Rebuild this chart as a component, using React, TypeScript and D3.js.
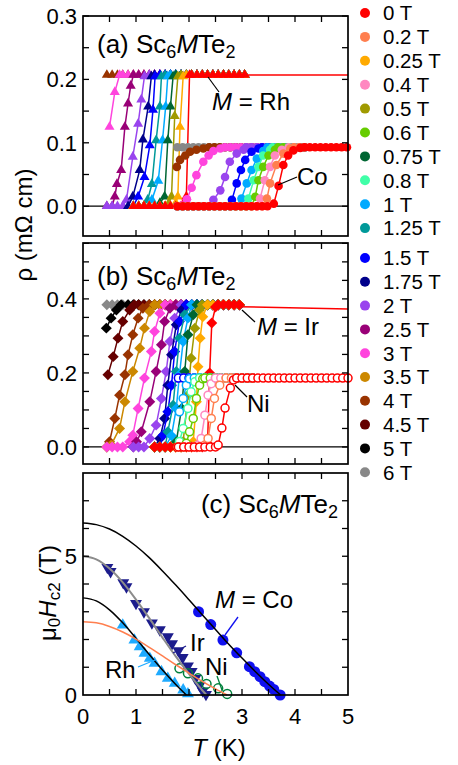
import React from 'react'
import * as d3 from 'd3'

// magnetic fields and their colours (legend order)
const fieldValues = [0, 0.2, 0.25, 0.4, 0.5, 0.6, 0.75, 0.8, 1, 1.25, 1.5, 1.75, 2, 2.5, 3, 3.5, 4, 4.5, 5, 6]
const fieldColors = [
  '#ff0000', '#ff7f4f', '#ffaa00', '#ff88c0', '#a09a00', '#66cc00', '#006633', '#40ffa8', '#00aaff', '#009999',
  '#0000ff', '#00008b', '#9944ee', '#990077', '#ff44dd', '#cc8800', '#993300', '#660000', '#000000', '#888888'
]
const colorOf = (h: number) => fieldColors[fieldValues.indexOf(h)]

// measured temperatures (K)
const rhTemps = [0.45, 0.55, 0.65, 0.75, 0.85, 0.95, 1.05, 1.15, 1.25, 1.35, 1.45, 1.55, 1.65, 1.75, 1.85, 1.95, 2.05, 2.15, 2.25, 2.35, 2.45, 2.55, 2.65, 2.75, 2.85, 2.95, 3.05]
const coTemps = [1.78, 1.88, 1.98, 2.08, 2.18, 2.28, 2.38, 2.48, 2.58, 2.68, 2.78, 2.88, 2.98, 3.08, 3.18, 3.28, 3.38, 3.48, 3.58, 3.68, 3.78, 3.88, 3.98, 4.08, 4.18, 4.28, 4.38, 4.48, 4.58, 4.68, 4.78, 4.88, 4.98]
const irTemps = [0.45, 0.55, 0.65, 0.75, 0.85, 0.95, 1.05, 1.15, 1.25, 1.35, 1.45, 1.55, 1.65, 1.75, 1.85, 1.95, 2.05, 2.15, 2.25, 2.35, 2.45, 2.55, 2.65, 2.75, 2.85, 2.95]
const niTemps = [1.8, 1.9, 2.0, 2.1, 2.2, 2.3, 2.4, 2.5, 2.6, 2.7, 2.8, 2.9, 3.0, 3.1, 3.2, 3.3, 3.4, 3.5, 3.6, 3.7, 3.8, 3.9, 4.0, 4.1, 4.2, 4.3, 4.4, 4.5, 4.6, 4.7, 4.8, 4.9, 5.0]

// normal-state resistivity (mOhm cm)
const rhNormal = 0.207
const coNormal = 0.093
const irNormal = 0.384
const niNormal = 0.186

// transitions: field, lowest T measured, points [T, rho]
const rhCurves = [
  { h: 4, tMin: 0.45, pts: [] },
  { h: 3, tMin: 0.5, pts: [[0.5, 0.125], [0.6, 0.18], [0.69, 0.207]] },
  { h: 2.5, tMin: 0.45, pts: [[0.6, 0.015], [0.64, 0.035], [0.72, 0.057], [0.79, 0.125], [0.85, 0.162], [0.9, 0.19], [0.95, 0.207]] },
  { h: 2, tMin: 0.45, pts: [[0.82, 0.01], [0.94, 0.078], [1.04, 0.13], [1.1, 0.168], [1.16, 0.205]] },
  { h: 1.75, tMin: 0.85, pts: [[0.94, 0.015], [1.07, 0.057], [1.13, 0.105], [1.23, 0.157], [1.29, 0.205]] },
  { h: 1.5, tMin: 0.95, pts: [[1.04, 0.015], [1.16, 0.046], [1.26, 0.096], [1.32, 0.152], [1.36, 0.205]] },
  { h: 1.25, tMin: 0.95, pts: [[1.22, 0.01], [1.3, 0.035], [1.38, 0.104], [1.45, 0.157], [1.48, 0.205]] },
  { h: 1, tMin: 0.95, pts: [[1.3, 0.01], [1.42, 0.04], [1.5, 0.104], [1.56, 0.157], [1.6, 0.205]] },
  { h: 0.75, tMin: 0.95, pts: [[1.45, 0.005], [1.54, 0.015], [1.6, 0.104], [1.65, 0.157], [1.7, 0.205]] },
  { h: 0.5, tMin: 0.95, pts: [[1.62, 0.005], [1.67, 0.015], [1.73, 0.142], [1.79, 0.205]] },
  { h: 0.25, tMin: 0.95, pts: [[1.75, 0.005], [1.79, 0.015], [1.83, 0.125], [1.89, 0.205]] },
  { h: 0, tMin: 0.95, pts: [[1.9, 0.005], [1.95, 0.015], [2.01, 0.207]] }
]
const rhTail = [[3.05, 0.207], [5.0, 0.207]]

const coCurves = [
  { h: 6, tMin: 1.78, pts: [] },
  { h: 4, tMin: 1.78, pts: [[1.77, 0.062], [1.83, 0.073], [1.93, 0.08], [2.02, 0.086], [2.14, 0.089], [2.27, 0.091]] },
  { h: 3, tMin: 1.78, pts: [[1.86, 0.001], [1.96, 0.011], [2.05, 0.029], [2.14, 0.049], [2.27, 0.07], [2.37, 0.08], [2.46, 0.087], [2.59, 0.091]] },
  { h: 2, tMin: 1.78, pts: [[2.46, 0.01], [2.59, 0.025], [2.68, 0.046], [2.77, 0.07], [2.9, 0.083], [3.03, 0.089]] },
  { h: 1.5, tMin: 1.78, pts: [[2.81, 0.01], [2.9, 0.036], [2.98, 0.057], [3.06, 0.073], [3.18, 0.086], [3.31, 0.091]] },
  { h: 1, tMin: 1.78, pts: [[2.99, 0.012], [3.09, 0.036], [3.18, 0.057], [3.28, 0.075], [3.4, 0.087]] },
  { h: 0.8, tMin: 1.78, pts: [[3.12, 0.012], [3.22, 0.041], [3.31, 0.062], [3.4, 0.08], [3.53, 0.089]] },
  { h: 0.6, tMin: 1.78, pts: [[3.25, 0.015], [3.31, 0.041], [3.4, 0.062], [3.5, 0.08], [3.62, 0.089]] },
  { h: 0.4, tMin: 1.78, pts: [[3.34, 0.012], [3.43, 0.041], [3.53, 0.062], [3.62, 0.08], [3.75, 0.089]] },
  { h: 0.2, tMin: 1.78, pts: [[3.47, 0.012], [3.53, 0.036], [3.65, 0.065], [3.78, 0.083], [3.91, 0.091]] },
  { h: 0, tMin: 1.78, pts: [[3.6, 0.004], [3.69, 0.032], [3.78, 0.065], [3.87, 0.08], [3.97, 0.088], [4.1, 0.092]] }
]

const irCurves = [
  { h: 6, tMin: 0.44, pts: [] },
  { h: 5, tMin: 0.44, pts: [[0.44, 0.321], [0.53, 0.348], [0.63, 0.37], [0.72, 0.384]] },
  { h: 4.5, tMin: 0.44, pts: [[0.47, 0.195], [0.57, 0.244], [0.66, 0.294], [0.75, 0.339], [0.88, 0.37], [0.97, 0.384]] },
  { h: 4, tMin: 0.44, pts: [[0.5, 0.014], [0.6, 0.077], [0.69, 0.14], [0.79, 0.195], [0.85, 0.249], [0.94, 0.303], [1.04, 0.348], [1.13, 0.375]] },
  { h: 3.5, tMin: 0.44, pts: [[0.53, 0.005], [0.69, 0.05], [0.79, 0.122], [0.94, 0.204], [1.07, 0.267], [1.16, 0.321], [1.26, 0.366]] },
  { h: 3, tMin: 0.44, pts: [[0.88, 0.014], [0.94, 0.032], [1.04, 0.104], [1.16, 0.186], [1.29, 0.258], [1.35, 0.312], [1.45, 0.361]] },
  { h: 2.5, tMin: 0.9, pts: [[1.01, 0.014], [1.1, 0.041], [1.26, 0.122], [1.38, 0.204], [1.48, 0.276], [1.54, 0.339], [1.64, 0.375]] },
  { h: 2, tMin: 0.9, pts: [[1.26, 0.023], [1.38, 0.059], [1.48, 0.131], [1.57, 0.204], [1.64, 0.285], [1.73, 0.348]] },
  { h: 1.75, tMin: 1.3, pts: [[1.45, 0.023], [1.54, 0.077], [1.6, 0.167], [1.67, 0.249], [1.76, 0.33], [1.86, 0.37]] },
  { h: 1.5, tMin: 1.3, pts: [[1.51, 0.032], [1.6, 0.095], [1.67, 0.167], [1.73, 0.258], [1.82, 0.339]] },
  { h: 1.25, tMin: 1.3, pts: [[1.6, 0.041], [1.7, 0.113], [1.76, 0.204], [1.82, 0.294], [1.92, 0.357]] },
  { h: 1, tMin: 1.3, pts: [[1.67, 0.03], [1.76, 0.104], [1.82, 0.195], [1.89, 0.285], [1.98, 0.348]] },
  { h: 0.75, tMin: 1.3, pts: [[1.76, 0.014], [1.86, 0.104], [1.92, 0.204], [1.98, 0.303], [2.08, 0.357]] },
  { h: 0.5, tMin: 1.3, pts: [[1.89, 0.014], [1.98, 0.14], [2.04, 0.24], [2.11, 0.321], [2.2, 0.37]] },
  { h: 0.25, tMin: 1.3, pts: [[2.08, 0.014], [2.14, 0.122], [2.17, 0.217], [2.21, 0.294], [2.26, 0.352]] },
  { h: 0, tMin: 1.3, pts: [[2.35, 0.01], [2.39, 0.2], [2.43, 0.335], [2.5, 0.378]] }
]
const irTail = [[2.95, 0.379], [5.0, 0.373]]

const niCurves = [
  { h: 2, tMin: 1.8, pts: [] },
  { h: 1.5, tMin: 1.8, pts: [] },
  { h: 1, tMin: 1.8, pts: [[1.82, 0.095], [1.89, 0.131], [1.95, 0.167], [2.01, 0.184]] },
  { h: 0.8, tMin: 1.8, pts: [[1.82, 0.015], [1.89, 0.05], [1.98, 0.104], [2.04, 0.149], [2.11, 0.176]] },
  { h: 0.6, tMin: 1.8, pts: [[1.95, 0.01], [2.01, 0.041], [2.08, 0.077], [2.14, 0.131], [2.2, 0.167], [2.26, 0.184]] },
  { h: 0.4, tMin: 1.8, pts: [[2.17, 0.005], [2.23, 0.023], [2.3, 0.086], [2.36, 0.14], [2.42, 0.171]] },
  { h: 0.2, tMin: 1.8, pts: [[2.3, 0.005], [2.36, 0.023], [2.42, 0.077], [2.48, 0.131], [2.58, 0.167]] },
  { h: 0, tMin: 1.8, pts: [[2.55, 0.005], [2.62, 0.051], [2.68, 0.105], [2.78, 0.159], [2.84, 0.181]] }
]

// upper critical field (T) vs temperature (K)
const coHc2 = [[2.18, 3.0], [2.41, 2.54], [2.64, 1.98], [2.9, 1.52], [3.14, 1.02], [3.24, 0.84], [3.34, 0.66], [3.43, 0.48], [3.52, 0.32], [3.6, 0.2], [3.72, 0.0]]
const irHc2 = [[0.46, 4.6], [0.52, 4.45], [0.76, 4.05], [0.82, 3.9], [1.0, 3.3], [1.15, 3.0], [1.3, 2.6], [1.45, 2.35], [1.6, 2.1], [1.68, 1.85], [1.8, 1.6], [1.88, 1.35], [1.98, 1.05], [2.05, 0.85], [2.12, 0.6], [2.2, 0.35], [2.26, 0.15], [2.32, 0.02]]
const rhHc2 = [[0.75, 2.52], [0.97, 1.98], [1.07, 1.74], [1.16, 1.5], [1.26, 1.32], [1.35, 1.14], [1.48, 0.84], [1.6, 0.6], [1.73, 0.42], [1.89, 0.18], [1.98, 0.04]]
const niHc2 = [[1.82, 0.96], [1.98, 0.78], [2.17, 0.6], [2.33, 0.4], [2.55, 0.24], [2.72, 0.04]]

const coFit = [[0, 6.2], [0.25, 6.14], [0.5, 5.98], [0.75, 5.72], [1, 5.37], [1.25, 4.95], [1.5, 4.47], [1.75, 3.96], [2, 3.43], [2.25, 2.89], [2.5, 2.36], [2.75, 1.83], [3, 1.33], [3.25, 0.85], [3.5, 0.39], [3.73, 0]]
const irFit = [[0, 5.0], [0.25, 4.89], [0.5, 4.56], [0.75, 4.06], [1, 3.44], [1.25, 2.77], [1.5, 2.07], [1.75, 1.39], [2, 0.76], [2.25, 0.17], [2.33, 0]]
const rhFit = [[0, 3.5], [0.25, 3.39], [0.5, 3.07], [0.75, 2.6], [1, 2.04], [1.25, 1.46], [1.5, 0.9], [1.75, 0.38], [1.95, 0]]
const niFit = [[0, 2.64], [0.25, 2.6], [0.5, 2.47], [0.75, 2.27], [1, 2.01], [1.25, 1.72], [1.5, 1.41], [1.75, 1.09], [2, 0.79], [2.25, 0.49], [2.5, 0.22], [2.72, 0]]

const FONT = 'Liberation Sans, Arial, sans-serif'
const x = d3.scaleLinear().domain([0, 5]).range([83, 348])
const yA = d3.scaleLinear().domain([-0.047, 0.3]).range([236, 16])
const yB = d3.scaleLinear().domain([-0.046, 0.551]).range([464, 243])
const yC = d3.scaleLinear().domain([0, 8]).range([695, 473])

// zero and normal-state parts sit on the measured temperature grid
function buildSeries(temps, c, normal, tMax) {
  const first = c.pts.length ? c.pts[0][0] : -Infinity
  const last = c.pts.length ? c.pts[c.pts.length - 1][0] : -Infinity
  const grid = temps.filter(t => t >= c.tMin && t <= tMax)
  const below = grid.filter(t => t < first - 0.03).map(t => [t, 0])
  const above = grid.filter(t => t > last + 0.03).map(t => [t, normal])
  return [...below, ...c.pts, ...above]
}

const triUp = d3.symbol(d3.symbolTriangle, 44)()
const square = d3.symbol(d3.symbolSquare, 60)()

function Frame({ ys, top, bottom, ticks }) {
  return (
    <g stroke="#000" strokeWidth={1.3}>
      {d3.range(0.5, 5, 0.5).map(t => (
        <g key={t}>
          <line x1={x(t)} x2={x(t)} y1={top} y2={top + 6} />
          <line x1={x(t)} x2={x(t)} y1={bottom} y2={bottom - 6} />
        </g>
      ))}
      {ticks.map(v => (
        <g key={v}>
          <line x1={83} x2={89} y1={ys(v)} y2={ys(v)} />
          <line x1={348} x2={342} y1={ys(v)} y2={ys(v)} />
        </g>
      ))}
      <rect x={83} y={top} width={265} height={bottom - top} fill="none" strokeWidth={1.7} />
    </g>
  )
}

function Formula({ x0, y0, label, anchor = 'start' }) {
  return (
    <text x={x0} y={y0} fontSize={26} textAnchor={anchor}>
      {label} Sc<tspan fontSize={18} dy={5}>6</tspan>
      <tspan fontStyle="italic" dy={-5}>M</tspan>Te<tspan fontSize={18} dy={5}>2</tspan>
    </text>
  )
}

function Curves({ curves, temps, normal, ys, tMax, marker }) {
  const line = d3.line().x(d => x(d[0])).y(d => ys(d[1]))
  return (
    <g>
      {curves.map(c => {
        const col = colorOf(c.h)
        const data = buildSeries(temps, c, normal, c.h === 0 ? 5.0 : tMax)
        return (
          <g key={c.h}>
            <path d={line(data)} fill="none" stroke={col} strokeWidth={1.5} />
            {data.map((d, i) => {
              const px = x(d[0]), py = ys(d[1])
              if (marker === 'tri') return <path key={i} d={triUp} transform={`translate(${px},${py})`} fill={col} />
              if (marker === 'dia') return <path key={i} d={square} transform={`translate(${px},${py}) rotate(45)`} fill={col} />
              if (marker === 'open') return <circle key={i} cx={px} cy={py} r={4} fill="#fff" stroke={col} strokeWidth={1.5} />
              return <circle key={i} cx={px} cy={py} r={4.3} fill={col} />
            })}
          </g>
        )
      })}
    </g>
  )
}

export default function App() {
  const lineA = d3.line().x(d => x(d[0])).y(d => yA(d[1]))
  const lineB = d3.line().x(d => x(d[0])).y(d => yB(d[1]))
  const fitLine = d3.line().x(d => x(d[0])).y(d => yC(d[1])).curve(d3.curveMonotoneX)
  const triC = d3.symbol(d3.symbolTriangle, 62)()
  const fmt = d3.format('.1f')
  return (
    <svg width={458} height={765} style={{ position: 'absolute', left: 0, top: 0, background: '#fff' }} fontFamily={FONT}>
      <rect width={458} height={765} fill="#fff" />

      {/* panel (a) */}
      <line x1={83} x2={348} y1={yA(0)} y2={yA(0)} stroke="#000" strokeWidth={1.3} />
      <Curves curves={rhCurves} temps={rhTemps} normal={rhNormal} ys={yA} tMax={3.05} marker="tri" />
      <path d={lineA(rhTail)} fill="none" stroke={colorOf(0)} strokeWidth={1.5} />
      <Curves curves={coCurves} temps={coTemps} normal={coNormal} ys={yA} tMax={4.2} marker="dot" />
      <Frame ys={yA} top={16} bottom={236} ticks={d3.range(0, 0.301, 0.05)} />
      {[0, 0.1, 0.2, 0.3].map(v => (
        <text key={v} x={77} y={yA(v)} dy="0.36em" fontSize={22} textAnchor="end">{fmt(v)}</text>
      ))}
      <Formula x0={97} y0={53} label="(a)" />
      <line x1={208} y1={77} x2={219} y2={92} stroke="#000" strokeWidth={1.2} />
      <text x={212} y={110} fontSize={24}><tspan fontStyle="italic">M</tspan> = Rh</text>
      <line x1={278} y1={185} x2={297} y2={177} stroke="#000" strokeWidth={1.2} />
      <text x={297} y={185} fontSize={24}>Co</text>

      {/* panel (b) */}
      <line x1={83} x2={348} y1={yB(0)} y2={yB(0)} stroke="#000" strokeWidth={1.3} />
      <Curves curves={irCurves} temps={irTemps} normal={irNormal} ys={yB} tMax={2.95} marker="dia" />
      <path d={lineB(irTail)} fill="none" stroke={colorOf(0)} strokeWidth={1.5} />
      <Curves curves={niCurves} temps={niTemps} normal={niNormal} ys={yB} tMax={3.2} marker="open" />
      <Frame ys={yB} top={243} bottom={464} ticks={d3.range(0, 0.551, 0.05)} />
      {[0, 0.2, 0.4].map(v => (
        <text key={v} x={77} y={yB(v)} dy="0.36em" fontSize={22} textAnchor="end">{fmt(v)}</text>
      ))}
      <Formula x0={97} y0={285} label="(b)" />
      <line x1={242} y1={310} x2={255} y2={322} stroke="#000" strokeWidth={1.2} />
      <text x={257} y={335} fontSize={24}><tspan fontStyle="italic">M</tspan> = Ir</text>
      <line x1={235} y1={385} x2={247} y2={397} stroke="#000" strokeWidth={1.2} />
      <text x={247} y={412} fontSize={24}>Ni</text>

      <text transform="translate(32,225) rotate(-90)" fontSize={24} textAnchor="middle">ρ (mΩ cm)</text>

      {/* panel (c) */}
      {coHc2.map((d, i) => <circle key={'co' + i} cx={x(d[0])} cy={yC(d[1])} r={5.5} fill="#1010f0" />)}
      {irHc2.map((d, i) => <path key={'ir' + i} d={triC} transform={`translate(${x(d[0])},${yC(d[1])}) rotate(180)`} fill="#1c1c8c" />)}
      {rhHc2.map((d, i) => <path key={'rh' + i} d={triC} transform={`translate(${x(d[0])},${yC(d[1])})`} fill="#1eaaff" />)}
      {niHc2.map((d, i) => <circle key={'ni' + i} cx={x(d[0])} cy={yC(d[1])} r={4.5} fill="none" stroke="#00803c" strokeWidth={1.5} />)}
      <path d={fitLine(coFit)} fill="none" stroke="#000" strokeWidth={1.5} />
      <path d={fitLine(irFit)} fill="none" stroke="#8c8c8c" strokeWidth={2} />
      <path d={fitLine(rhFit)} fill="none" stroke="#000" strokeWidth={1.5} />
      <path d={fitLine(niFit)} fill="none" stroke="#ff7f4f" strokeWidth={1.5} />
      <Frame ys={yC} top={473} bottom={695} ticks={d3.range(1, 8, 1)} />
      {[0, 5].map(v => (
        <text key={v} x={77} y={yC(v)} dy="0.36em" fontSize={22} textAnchor="end">{v}</text>
      ))}
      {[0, 1, 2, 3, 4, 5].map(v => (
        <text key={v} x={x(v)} y={724} fontSize={22} textAnchor="middle">{v}</text>
      ))}
      <Formula x0={338} y0={513} label="(c)" anchor="end" />
      <line x1={238} y1={617} x2={225} y2={635} stroke="#1010f0" strokeWidth={1.3} />
      <text x={215} y={608} fontSize={24}><tspan fontStyle="italic">M</tspan> = Co</text>
      <line x1={186} y1={646} x2={173} y2={653} stroke="#1c1c8c" strokeWidth={1.3} />
      <text x={190} y={651} fontSize={24}>Ir</text>
      <line x1={217} y1={676} x2={222} y2={690} stroke="#00803c" strokeWidth={1.3} />
      <text x={205} y={675} fontSize={24}>Ni</text>
      <line x1={138} y1={667} x2={155} y2={660} stroke="#1eaaff" strokeWidth={1.3} />
      <text x={105} y={678} fontSize={24}>Rh</text>

      <text transform="translate(56,593) rotate(-90)" fontSize={24} textAnchor="middle">
        μ<tspan fontSize={17} dy={4}>0</tspan><tspan fontStyle="italic" dy={-4}>H</tspan>
        <tspan fontSize={17} dy={4}>c2</tspan><tspan dy={-4}> (T)</tspan>
      </text>
      <text x={219} y={756} fontSize={24} textAnchor="middle"><tspan fontStyle="italic">T</tspan> (K)</text>

      {/* legend */}
      {fieldValues.map((h, i) => {
        const yy = i < 10 ? 13 + i * 23.9 : 258 + (i - 10) * 23.8
        return (
          <g key={h}>
            <circle cx={365} cy={yy} r={5} fill={fieldColors[i]} />
            <text x={383} y={yy} dy="0.36em" fontSize={20.5}>{h} T</text>
          </g>
        )
      })}
    </svg>
  )
}
